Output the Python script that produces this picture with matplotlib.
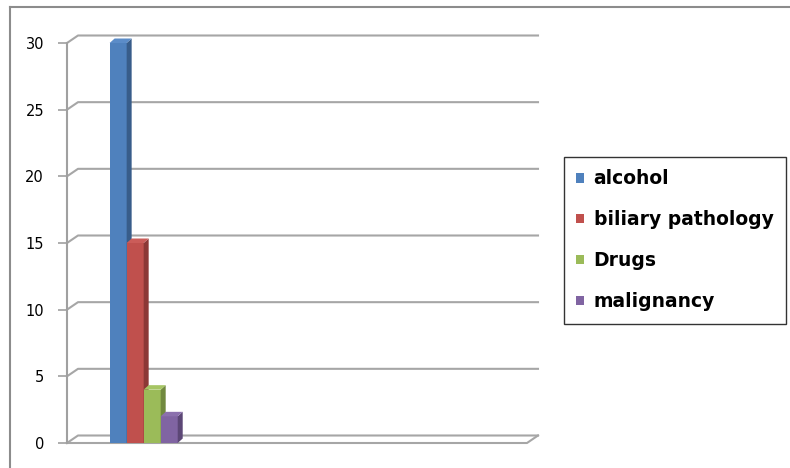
import matplotlib
matplotlib.use("Agg")
import matplotlib.pyplot as plt
from matplotlib.patches import Polygon, Patch
from matplotlib.lines import Line2D
from matplotlib.transforms import IdentityTransform

# ---- data ----
series = ["alcohol", "biliary pathology", "Drugs", "malignancy"]
values = [30, 15, 4, 2]
colors = ["#4F81BD", "#C0504D", "#9BBB59", "#8064A2"]
side_colors = ["#385D8A", "#8C3836", "#71893F", "#5C4776"]
top_colors = ["#5B8CC8", "#CB5C59", "#A6C564", "#8B70AD"]
yticks = [0, 5, 10, 15, 20, 25, 30]
n_categories = 3  # chart has 3 category slots, only the first is filled

W, H = 790, 468
fig = plt.figure(figsize=(W / 100, H / 100), dpi=100)
fig.patch.set_facecolor("white")

# outer frame (left + top edges)
fig.add_artist(Line2D([10 / W, 10 / W], [0, 1 - 7 / H], color="#8c8c8c", lw=1.5,
                      transform=fig.transFigure))
fig.add_artist(Line2D([10 / W, 1], [1 - 7 / H, 1 - 7 / H], color="#8c8c8c", lw=1.5,
                      transform=fig.transFigure))

ax = fig.add_axes([67 / W, 25 / H, 460 / W, 400 / H])
ax.set_xlim(-0.5, n_categories - 0.5)
ax.set_ylim(0, 30)
ax.set_facecolor("none")
for s in ["top", "right", "bottom"]:
    ax.spines[s].set_visible(False)
ax.spines["left"].set_color("#a0a0a0")
ax.spines["left"].set_linewidth(1.5)
ax.set_xticks([])
ax.set_yticks(yticks)
ax.set_yticklabels([str(t) for t in yticks], fontsize=10.5, family="DejaVu Sans")
ax.tick_params(axis="y", length=6.5, width=1.2, color="#a0a0a0", pad=10)

# 3D wall depth offsets (pixels)
wdx, wdy = 11, 7.5
bdx, bdy = 5, 4.5
grid_color = "#a6a6a6"
ident = IdentityTransform()

xmin, xmax = ax.get_xlim()
for v in yticks:
    fx, fy = ax.transData.transform((xmin, v))
    rx, ry = ax.transData.transform((xmax, v))
    ax.add_line(Line2D([fx, fx + wdx, rx + wdx], [fy, fy + wdy, ry + wdy],
                       color=grid_color, lw=1.5, transform=ident, clip_on=False, zorder=1))
    if v == 0:
        ax.add_line(Line2D([fx, rx, rx + wdx], [fy, ry, ry + wdy],
                           color=grid_color, lw=1.5, transform=ident, clip_on=False, zorder=1))

# bars
bw = 0.111
for i, (name, val) in enumerate(zip(series, values)):
    xc = 0 + (i - 1.5) * bw
    bars = ax.bar([xc], [val], width=bw, color=colors[i], zorder=3 + i, linewidth=0)
    r = bars[0]
    x0, x1 = r.get_x(), r.get_x() + r.get_width()
    X0, Yb = ax.transData.transform((x0, 0))
    X1, Yt = ax.transData.transform((x1, val))
    side = Polygon([(X1, Yb), (X1, Yt), (X1 + bdx, Yt + bdy), (X1 + bdx, Yb + bdy)],
                   closed=True, facecolor=side_colors[i], edgecolor="none",
                   transform=ident, zorder=3 + i + 0.1, clip_on=False)
    top = Polygon([(X0, Yt), (X1, Yt), (X1 + bdx, Yt + bdy), (X0 + bdx, Yt + bdy)],
                  closed=True, facecolor=top_colors[i], edgecolor="none",
                  transform=ident, zorder=3 + i + 0.2, clip_on=False)
    ax.add_patch(side)
    ax.add_patch(top)

# legend
handles = [Patch(facecolor=c, edgecolor="none") for c in colors]
leg = fig.legend(handles, series, loc="upper left",
                 bbox_to_anchor=(564 / W, 1 - 157 / H),
                 prop={"family": "DejaVu Sans", "weight": "bold", "size": 13.5},
                 frameon=True, fancybox=False, edgecolor="black",
                 handlelength=0.42, handleheight=0.42, handletextpad=0.5,
                 labelspacing=1.17, borderpad=0.66, borderaxespad=0)
leg.get_frame().set_linewidth(1.0)

fig.savefig("out.png", dpi=100)
